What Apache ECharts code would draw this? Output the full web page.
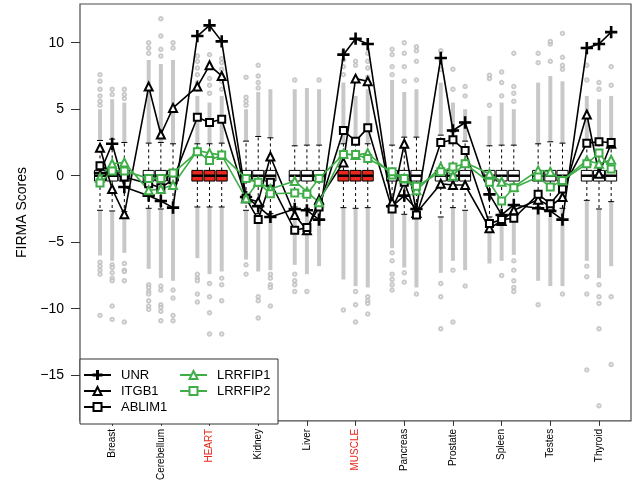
<!DOCTYPE html>
<html>
<head>
<meta charset="utf-8">
<script src="https://cdn.jsdelivr.net/npm/echarts@6/dist/echarts.min.js"></script>
<style>
  html, body { margin: 0; padding: 0; background: #fff; }
  #chart { width: 636px; height: 483px; }
</style>
</head>
<body>
<div id="chart"></div>
<script>
const tissues = ['Breast', 'Cerebellum', 'HEART', 'Kidney', 'Liver', 'MUSCLE',
                 'Pancreas', 'Prostate', 'Spleen', 'Testes', 'Thyroid'];
const redTissues = ['HEART', 'MUSCLE'];
const yTicks = [-15, -10, -5, 0, 5, 10];

// FIRMA scores of each gene on the 33 arrays (3 per tissue)
const UNR = [0.2, 2.4, -0.85, -1.5, -1.9, -2.4, 10.5, 11.3, 10.1, -1.6, -2.3, -3.1,
  -2.5, -2.6, -3.3, 9.1, 10.3, 9.9, -2.3, -1.5, -2.5, 8.85, 3.4, 4.0,
  -1.4, -2.95, -2.2, -2.45, -2.65, -3.3, 9.6, 9.9, 10.8];
const ITGB1 = [2.1, -1.0, -2.9, 6.7, 3.1, 5.1, 6.7, 8.3, 7.5, -1.7, -1.95, 1.45,
  -2.95, -4.1, -1.8, 1.0, 7.3, 7.1, -2.0, 2.4, -2.8, -0.6, -0.7, -0.7,
  -3.95, -3.4, -2.6, -1.8, -2.3, -1.6, 4.6, 0.15, 2.4];
const ABLIM1 = [0.75, 0.3, -0.1, -0.6, -0.9, -0.3, 4.4, 4.0, 4.25, -1.7, -3.3, -0.5,
  -4.1, -3.9, -2.35, 3.4, 2.6, 3.6, -2.5, -0.5, -2.95, 2.5, 2.7, 1.9,
  -3.6, -3.3, -3.2, -1.4, -2.1, -1.0, 2.45, 2.55, 2.5];
const LRRFIP1 = [-0.15, 0.9, 1.0, -1.1, -1.0, -0.7, 1.9, 1.7, 1.55, -1.7, -0.45, -1.0,
  -0.4, -1.2, -2.0, 1.65, 1.55, 1.7, 0.1, -0.2, -1.1, 0.65, 0.0, 1.0,
  0.15, -0.45, -0.85, 0.4, 0.3, -0.35, 1.15, 0.9, 1.2];
const LRRFIP2 = [-0.55, 0.35, 0.35, -0.2, -0.2, 0.2, 1.8, 1.15, 1.55, -0.2, -0.5, -1.35,
  -1.3, -1.4, -0.2, 1.6, 1.6, 1.3, 0.3, -0.2, -0.8, 0.3, 0.65, 0.9,
  -0.5, -1.9, -0.9, -0.1, -0.85, -0.35, 0.9, 1.7, 0.5];

// boxplot stats of all probesets on each array
const boxQ1 = -0.4;
const boxMedian = 0;
const boxQ3 = 0.4;
const whiskerHigh = [2.65, 2.75, 2.5, 2.45, 2.5, 2.4, 2.4, 2.4, 2.45, 2.6, 2.95, 2.85,
  2.25, 2.3, 2.3, 2.4, 2.6, 2.4, 2.3, 2.9, 2.9, 3.05, 3.3, 2.6,
  2.25, 2.3, 2.3, 2.4, 2.55, 2.45, 2.4, 2.4, 2.4];
const whiskerLow = [-2.6, -2.65, -2.7, -2.45, -2.5, -2.45, -2.35, -2.35, -2.35, -2.6, -2.85, -2.85,
  -2.35, -2.45, -2.6, -2.4, -2.45, -2.4, -2.45, -2.9, -2.7, -3.1, -2.4, -2.6,
  -3.1, -2.8, -2.3, -2.35, -2.45, -2.45, -1.85, -2.5, -1.95];
// extent of the dense run of outliers beyond each whisker
const denseHigh = [5.0, 5.75, 5.5, 8.7, 8.4, 8.7, 6.0, 5.5, 6.0, 5.0, 6.3, 6.5,
  6.5, 6.6, 6.5, 7.0, 6.0, 6.5, 7.2, 6.3, 6.5, 7.0, 5.5, 5.0,
  4.5, 5.5, 5.0, 7.0, 7.5, 7.1, 6.0, 5.75, 6.0];
const denseLow = [-6.0, -6.4, -5.8, -7.0, -7.7, -7.9, -6.2, -7.4, -7.2, -6.3, -7.2, -7.1,
  -6.7, -7.4, -6.8, -7.8, -8.3, -8.4, -5.45, -6.9, -8.4, -7.3, -6.4, -7.1,
  -6.6, -6.4, -5.95, -7.9, -8.3, -8.3, -6.4, -7.7, -6.8];
// scattered outliers beyond the dense runs
const sparseHigh = [
  [5.3, 5.6, 6.0, 6.5, 7.1, 7.6], [6.1, 6.5], [5.8, 6.1, 6.5],
  [9.2, 9.6, 10.0], [9.0, 9.5, 10.5, 11.8], [9.6, 10.0],
  [6.5, 7.0, 7.6, 8.1, 8.6, 9.0], [6.2, 6.8, 7.3, 8.3, 9.1], [6.5, 7.1, 7.5, 8.0, 8.5, 8.8],
  [5.3, 5.6, 5.9, 7.4], [6.6, 7.0, 7.5, 8.3], [],
  [7.2], [], [7.2],
  [7.6, 8.2, 8.7, 9.3], [7.3, 8.3, 8.6], [7.4, 8.1, 8.6, 9.2],
  [7.6, 8.2, 9.1, 9.5], [7.1, 8.2, 9.2, 10.0], [7.2, 8.6, 9.4, 9.7],
  [8.0, 8.7, 9.4], [6.5, 8.0], [6.0, 6.7],
  [5.3, 7.3, 7.55], [6.0, 7.0, 7.8], [5.6, 6.2, 6.7, 9.2],
  [8.5, 9.2], [8.6, 9.9, 10.1], [8.0, 8.3, 8.9, 10.7],
  [7.2, 8.3], [6.5, 7.0], [6.8, 8.2]
];
const sparseLow = [
  [-6.5, -6.8, -7.1, -7.4, -10.5], [-6.7, -6.9, -7.3, -7.7, -7.9, -9.8, -10.8], [-6.6, -7.1, -7.2, -7.9, -11.0],
  [-8.2, -8.4, -8.7, -8.9, -9.4, -9.8, -10.05], [-8.3, -8.6, -9.7, -9.9, -10.2, -10.9], [-8.6, -9.2, -10.5, -10.9],
  [-7.4, -7.7, -7.9, -8.9, -9.5], [-8.1, -9.1, -10.3, -11.9], [-7.7, -8.2, -9.4, -11.9],
  [-6.7, -7.4], [-9.1, -9.4, -10.7], [-7.4, -7.7, -8.2, -8.4, -9.8],
  [-7.4, -7.9, -8.2, -8.7], [-8.7], [],
  [-10.1], [-8.7, -9.7, -11.0], [-9.1, -9.4, -9.6, -10.4],
  [-5.8, -6.4, -7.4, -7.8, -8.2, -8.6], [-7.3, -8.0], [-8.9],
  [-8.1, -9.1, -11.5], [-7.1, -11.0], [-8.3],
  [], [-7.5], [-6.4, -7.1, -7.9, -8.4, -8.7],
  [-9.7], [], [-8.9],
  [-6.8, -7.6, -8.9, -14.6], [-8.2, -9.1, -9.6, -11.5, -17.3], [-9.1, -14.2]
];

// x position of each array: three boxes per tissue, one empty slot between tissues
const slots = [];
tissues.forEach((t, ti) => { for (let r = 0; r < 3; r++) slots.push(ti * 4 + r); });
const tissueOf = i => tissues[Math.floor(i / 3)];

const GREEN = '#3fae49';
const RED = '#e8281e';
const FONT = 'Liberation Sans, Arial, sans-serif';
const plusPath = 'path://M4.4,0H5.6V4.4H10V5.6H5.6V10H4.4V5.6H0V4.4H4.4Z';

const chart = echarts.init(document.getElementById('chart'));

const boxData = slots.map((s, i) => [s, whiskerLow[i], boxQ1, boxMedian, boxQ3, whiskerHigh[i],
  redTissues.includes(tissueOf(i)) ? 1 : 0]);
const denseData = slots.map((s, i) => [s, whiskerLow[i], denseLow[i], whiskerHigh[i], denseHigh[i]]);
const sparseData = [];
slots.forEach((s, i) => {
  sparseHigh[i].forEach(v => sparseData.push([s, v]));
  sparseLow[i].forEach(v => sparseData.push([s, v]));
});

const lineSeries = (name, values, color, symbol, size) => ({
  name: name,
  type: 'line',
  data: slots.map((s, i) => [s, values[i]]),
  symbol: symbol,
  symbolSize: size,
  showAllSymbol: true,
  lineStyle: { color: color, width: 1.6 },
  itemStyle: { color: color, borderColor: color, borderWidth: 1.3 },
  z: 4
});

const legendBase = {
  orient: 'vertical',
  top: 367,
  padding: 0,
  itemWidth: 27, itemHeight: 10, itemGap: 0,
  selectedMode: false,
  textStyle: { fontSize: 13, lineHeight: 16, height: 16, color: '#000', fontFamily: FONT, padding: [0, 0, 0, 5] },
  z: 10
};

const option = {
  animation: false,
  grid: { left: 80, right: 5, top: 4, bottom: 59, show: true, borderColor: '#4a4a4a', borderWidth: 1.2 },
  xAxis: {
    type: 'value',
    min: -1.643,
    max: 43.63,
    splitLine: { show: false },
    axisLine: { show: false, onZero: false },
    axisTick: { show: true, length: 5, lineStyle: { color: '#333' }, customValues: tissues.map((t, i) => i * 4 + 1) },
    axisLabel: {
      customValues: tissues.map((t, i) => i * 4 + 1),
      rotate: 90,
      margin: 8,
      fontSize: 10,
      fontFamily: FONT,
      color: '#000',
      formatter: v => {
        const t = tissues[Math.round((v - 1) / 4)];
        return redTissues.includes(t) ? '{r|' + t + '}' : t;
      },
      rich: { r: { color: RED, fontSize: 10, fontFamily: FONT } }
    }
  },
  yAxis: {
    type: 'value',
    min: -18.43,
    max: 12.91,
    name: 'FIRMA Scores',
    nameLocation: 'middle',
    nameGap: 48,
    nameTextStyle: { fontSize: 14, color: '#000', fontFamily: FONT },
    splitLine: { show: false },
    axisLine: { show: false, onZero: false },
    axisTick: { show: true, length: 9, lineStyle: { color: '#333' }, customValues: yTicks },
    axisLabel: {
      customValues: yTicks,
      margin: 16,
      fontSize: 14,
      color: '#000',
      fontFamily: FONT,
      formatter: v => v < 0 ? '\u2212' + Math.abs(v) : String(v)
    }
  },
  legend: [
    Object.assign({ data: ['UNR', 'ITGB1', 'ABLIM1'], left: 83 }, legendBase),
    Object.assign({ data: ['LRRFIP1', 'LRRFIP2'], left: 179 }, legendBase)
  ],
  graphic: [{
    type: 'rect',
    z: 8,
    shape: { x: 80, y: 359, width: 198, height: 65 },
    style: { fill: '#fff', stroke: '#333', lineWidth: 1 }
  }],
  series: [
    {
      type: 'custom',
      name: 'dense outliers',
      data: denseData,
      z: 1,
      renderItem: (params, api) => {
        const x = api.coord([api.value(0), 0])[0];
        const lo0 = api.coord([0, api.value(1)])[1];
        const lo1 = api.coord([0, api.value(2)])[1];
        const hi0 = api.coord([0, api.value(3)])[1];
        const hi1 = api.coord([0, api.value(4)])[1];
        const w = 4;
        return {
          type: 'group',
          children: [
            { type: 'rect', shape: { x: x - w / 2, y: lo0, width: w, height: lo1 - lo0 }, style: { fill: '#c8c8c8' } },
            { type: 'rect', shape: { x: x - w / 2, y: hi1, width: w, height: hi0 - hi1 }, style: { fill: '#c8c8c8' } }
          ]
        };
      }
    },
    {
      type: 'scatter',
      name: 'outliers',
      data: sparseData,
      symbol: 'emptyCircle',
      symbolSize: 3.5,
      itemStyle: { color: '#bdbdbd', borderColor: '#bdbdbd', borderWidth: 0.8 },
      z: 1
    },
    {
      type: 'custom',
      name: 'boxes',
      data: boxData,
      z: 2,
      renderItem: (params, api) => {
        const x = api.coord([api.value(0), 0])[0];
        const yv = k => api.coord([0, api.value(k)])[1];
        const wl = yv(1), q1 = yv(2), md = yv(3), q3 = yv(4), wh = yv(5);
        const bw = 11, cw = 6;
        const dash = { stroke: '#000', lineWidth: 1, lineDash: [3, 3] };
        const solid = { stroke: '#000', lineWidth: 1 };
        return {
          type: 'group',
          children: [
            { type: 'line', shape: { x1: x, y1: q3, x2: x, y2: wh }, style: dash },
            { type: 'line', shape: { x1: x, y1: q1, x2: x, y2: wl }, style: dash },
            { type: 'line', shape: { x1: x - cw / 2, y1: wh, x2: x + cw / 2, y2: wh }, style: solid },
            { type: 'line', shape: { x1: x - cw / 2, y1: wl, x2: x + cw / 2, y2: wl }, style: solid },
            { type: 'rect', shape: { x: x - bw / 2, y: q3, width: bw, height: q1 - q3 },
              style: { fill: api.value(6) ? RED : '#fff', stroke: '#000', lineWidth: 1 } },
            { type: 'line', shape: { x1: x - bw / 2, y1: md, x2: x + bw / 2, y2: md },
              style: { stroke: '#000', lineWidth: 2.5 } }
          ]
        };
      }
    },
    lineSeries('UNR', UNR, '#000', plusPath, 11),
    lineSeries('ITGB1', ITGB1, '#000', 'emptyTriangle', 8),
    lineSeries('ABLIM1', ABLIM1, '#000', 'emptyRect', 7),
    lineSeries('LRRFIP1', LRRFIP1, GREEN, 'emptyTriangle', 8),
    lineSeries('LRRFIP2', LRRFIP2, GREEN, 'emptyRect', 7)
  ]
};

chart.setOption(option);
</script>
</body>
</html>
